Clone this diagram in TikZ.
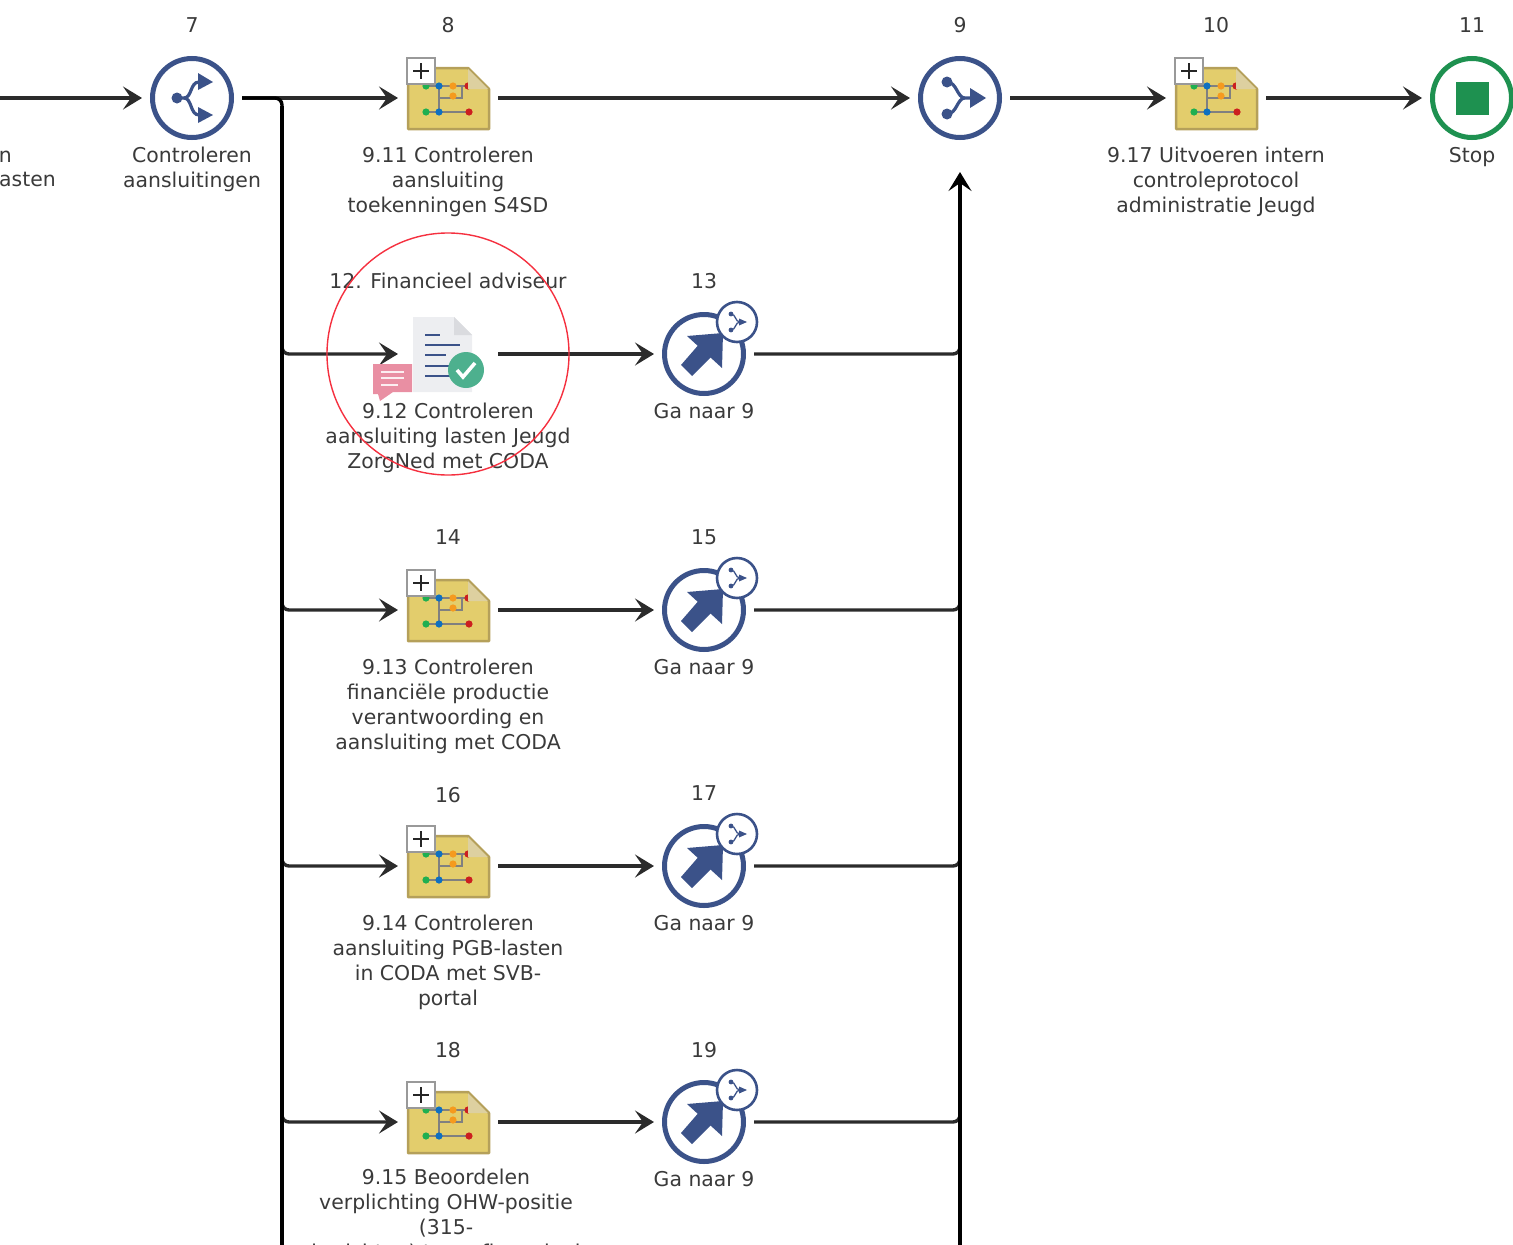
\documentclass[tikz,border=0pt]{standalone}
\usepackage{fontspec}
\setmainfont{DejaVu Sans}
\usetikzlibrary{arrows.meta}
\definecolor{navy}{HTML}{3B5289}
\definecolor{ink}{HTML}{3A3A3A}
\definecolor{stopgreen}{HTML}{1E9150}
\definecolor{foldr}{HTML}{E3CD6C}
\definecolor{foldb}{HTML}{B5A05A}
\definecolor{foldc}{HTML}{DDD0A0}
\definecolor{netgreen}{HTML}{1FAF50}
\definecolor{netblue}{HTML}{0F70C0}
\definecolor{netorange}{HTML}{F59A1E}
\definecolor{netred}{HTML}{CC1F1F}
\definecolor{page}{HTML}{EDEEF1}
\definecolor{pagefold}{HTML}{DADBDF}
\definecolor{tickgreen}{HTML}{4DB08E}
\definecolor{chatpink}{HTML}{E98FA3}
\definecolor{markred}{HTML}{F5303F}
\definecolor{linegrey}{HTML}{2B2B2B}
\tikzset{
  x=1pt,y=-1pt,
  slot/.style={minimum size=84pt,inner sep=0pt,outer sep=8pt,shape=rectangle},
  flow/.style={line width=3.4pt,draw=linegrey,rounded corners=7pt,-{Stealth[length=19pt,width=23pt,inset=8pt]}},
  flowplain/.style={line width=3.4pt,draw=linegrey,rounded corners=7pt},
  trunk/.style={line width=3.6pt,draw=black},
  lab/.style={font=\fontsize{20.4}{25}\selectfont,text=ink,align=center,inner sep=0pt,anchor=north},
  head/.style={font=\fontsize{20.4}{25}\selectfont,text=ink,inner sep=0pt,text height=15pt,text depth=0pt},
  ring/.style={draw=navy,line width=5pt,fill=white},
  netline/.style={draw=black!50,line width=1.8pt},
  folder/.pic={
    \path[fill=foldr,draw=foldb,line width=2.5pt,line join=round]
      (-40,-30)--(20,-30)--(41,-9)--(41,31)--(-40,31)--cycle;
    \draw[netline] (-22,-12)--(20,-12) (-9,-12)--(-9,14) (-9,0)--(14,0)--(14,-12) (-22,14)--(21,14);
    \foreach \px/\py/\pc in {-22/-12/netgreen,-9/-12/netblue,5/-12/netorange,20/-12/netred,5/-2/netorange,-22/14/netgreen,-9/14/netblue,21/14/netred}
      \fill[\pc] (\px,\py) circle (3.6);
    \path[fill=foldc] (20,-29)--(40,-9)--(20,-9)--cycle;
    \path[fill=white,draw=black!40,line width=1.2pt] (-41,-40) rectangle (-13,-14);
    \draw[black!85,line width=2.6pt] (-35,-27)--(-19,-27) (-27,-35)--(-27,-19);
  },
  splitglyph/.pic={
    \draw[navy,line width=3.2pt] (-15,0)--(-8,0) .. controls (0,0) and (-2,-16) .. (7,-16);
    \draw[navy,line width=3.2pt] (-8,0) .. controls (0,0) and (-2,17) .. (7,17);
    \fill[navy] (-15,0) circle (5.5);
    \fill[navy] (6,-25)--(21,-16)--(6,-8)--cycle (6,9)--(21,17)--(6,25)--cycle;
  },
  mergeglyph/.pic={
    \draw[navy,line width=3.2pt] (-13,-16) .. controls (-3,-16) and (-3,0) .. (5,0) (-13,16) .. controls (-3,16) and (-3,0) .. (5,0) (5,0)--(12,0);
    \fill[navy] (-13,-16) circle (5.5) (-13,16) circle (5.5);
    \fill[navy] (10,-10)--(26,0)--(10,10)--cycle;
  },
  gotoglyph/.pic={
    \path[ring] (0,0) circle (39.5);
    \fill[navy] (-17,-18)--(19,-21)--(18,14)--cycle;
    \fill[navy] (-23,11)--(-12,22)--(10,0)--(-3,-12)--cycle;
    \path[fill=white,draw=navy,line width=2.6pt] (33,-32) circle (20);
    \begin{scope}[shift={(33,-32)}]
      \draw[navy,line width=1.3pt] (-6,-8) .. controls (-1,-8) and (-2,0) .. (3,0) (-6,8) .. controls (-1,8) and (-2,0) .. (3,0);
      \fill[navy] (-6,-8) circle (2.4) (-6,8) circle (2.4) (2,-3.5)--(10,0)--(2,3.5)--cycle;
    \end{scope}
  },
  stopglyph/.pic={
    \path[draw=stopgreen,line width=5pt,fill=white] (0,0) circle (39.5);
    \fill[stopgreen] (-16.5,-16.5) rectangle (16.5,16.5);
  },
  docglyph/.pic={
    \fill[page] (-35,-37)--(6,-37)--(24,-19)--(24,38)--(-35,38)--cycle;
    \fill[pagefold] (6,-37)--(24,-19)--(6,-19)--cycle;
    \draw[navy,line width=2.4pt] (-23,-19)--(-8,-19) (-23,-9)--(12,-9) (-23,1)--(-2,1) (-23,12)--(2,12) (-23,22)--(2,22);
    \fill[tickgreen] (18,16) circle (18);
    \draw[white,line width=3.6pt] (9,16)--(15,23)--(27,9);
    \fill[chatpink] (-75,10)--(-36,10)--(-36,38)--(-55,38)--(-68,47)--(-70,40)--(-75,40)--cycle;
    \draw[white!85!chatpink,line width=2pt] (-67,18)--(-44,18) (-67,24)--(-44,24) (-67,31)--(-50,31);
  },
}
\begin{document}
\begin{tikzpicture}[x=1pt,y=-1pt]
\useasboundingbox (0,0) rectangle (1513,1245);
\begin{scope}
\clip (0,0) rectangle (1513,1245);
% icon slots
\node[slot] (n7) at (192,98) {};
\node[slot] (n8) at (448,98) {};
\node[slot] (n9) at (960,98) {};
\node[slot] (n10) at (1216,98) {};
\node[slot] (n11) at (1472,98) {};
\node[slot] (n12) at (448,354) {};
\node[slot] (n13) at (704,354) {};
\node[slot] (n14) at (448,610) {};
\node[slot] (n15) at (704,610) {};
\node[slot] (n16) at (448,866) {};
\node[slot] (n17) at (704,866) {};
\node[slot] (n18) at (448,1122) {};
\node[slot] (n19) at (704,1122) {};
\coordinate (inL) at (0,98);
\coordinate (trunkTop) at (282,98);
\coordinate (trunkEnd) at (282,1260);
\coordinate (mergeEnd) at (960,1260);
\coordinate (mergeTip) at (960,172);
% connectors
\draw[flow] (inL) -- (n7.west);
\draw[flow] (n7.east) -- (n8.west);
\draw[flow] (n8.east) -- (n9.west);
\draw[flow] (n9.east) -- (n10.west);
\draw[flow] (n10.east) -- (n11.west);
\foreach \a/\b in {n12/n13,n14/n15,n16/n17,n18/n19}{
  \draw[flow] (\a.east) -- (\b.west);
  \draw[flow] ([yshift=30pt]trunkTop|-\a.west) -- (trunkTop|-\a.west) -- (\a.west);
  \draw[flowplain] (\b.east) -- (mergeTip|-\b.east) -- ([yshift=30pt]mergeTip|-\b.east);
}
\draw[flowplain,draw=black] (n7.east) -- (trunkTop) -- ([yshift=-30pt]trunkTop);
\draw[trunk] ([yshift=-8pt]trunkTop) -- (trunkEnd);
\draw[trunk,-{Stealth[length=19pt,width=23pt,inset=8pt]}] (mergeEnd) -- (mergeTip);
% icons
\path[ring] (n7) circle (39.5);
\pic at (n7) {splitglyph};
\pic at (n8) {folder};
\path[ring] (n9) circle (39.5);
\pic at (n9) {mergeglyph};
\pic at (n10) {folder};
\pic at (n11) {stopglyph};
\pic at (n12) {docglyph};
\pic at (n13) {gotoglyph};
\pic at (n14) {folder};
\pic at (n15) {gotoglyph};
\pic at (n16) {folder};
\pic at (n17) {gotoglyph};
\pic at (n18) {folder};
\pic at (n19) {gotoglyph};
% headings
\node[head] (h7) at (192,25) {7};
\node[head] (h8) at (448,25) {8};
\node[head] (h9) at (960,25) {9};
\node[head] (h10) at (1216,25) {10};
\node[head] (h11) at (1472,25) {11};
\node[head] (h12) at (448,281) {12. Financieel adviseur};
\node[head] (h13) at (704,281) {13};
\node[head] (h14) at (448,537) {14};
\node[head] (h15) at (704,537) {15};
\node[head] (h16) at (448,795) {16};
\node[head] (h17) at (704,793) {17};
\node[head] (h18) at (448,1050) {18};
\node[head] (h19) at (704,1050) {19};
% labels
\node[lab,anchor=north east] (l5a) at (12,151) {n};
\node[lab,anchor=north east] (l5b) at (56,172) {asten};
\node[lab] (l7) at (192,147) {Controleren\\aansluitingen};
\node[lab] (l8) at (448,147) {9.11 Controleren\\aansluiting\\toekenningen S4SD};
\node[lab] (l10) at (1216,147) {9.17 Uitvoeren intern\\controleprotocol\\administratie Jeugd};
\node[lab] (l11) at (1472,147) {Stop};
\node[lab] (l12) at (448,403) {9.12 Controleren\\aansluiting lasten Jeugd\\ZorgNed met CODA};
\node[lab] (l13) at (704,403) {Ga naar 9};
\node[lab] (l14) at (448,659) {9.13 Controleren\\financiële productie\\verantwoording en\\aansluiting met CODA};
\node[lab] (l15) at (704,659) {Ga naar 9};
\node[lab] (l16) at (448,915) {9.14 Controleren\\aansluiting PGB-lasten\\in CODA met SVB-\\portal};
\node[lab] (l17) at (704,915) {Ga naar 9};
\node[lab] (l18) at (446,1169) {9.15 Beoordelen\\verplichting OHW-positie\\(315-\\berichten) t.o.v. financieel};
\node[lab] (l19) at (704,1171) {Ga naar 9};
% highlight
\node[draw=markred,line width=1.4pt,circle,minimum size=242pt,inner sep=0pt] (mark12) at (n12) {};
\end{scope}
\end{tikzpicture}
\end{document}
